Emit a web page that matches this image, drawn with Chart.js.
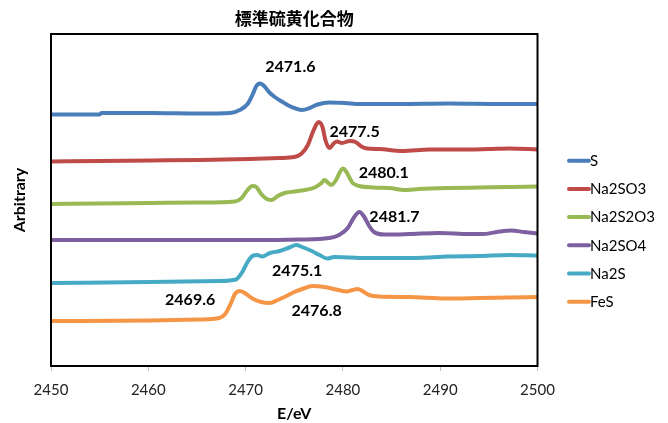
<!DOCTYPE html>
<html>
<head>
<meta charset="utf-8">
<script src="https://cdn.jsdelivr.net/npm/chart.js@4/dist/chart.umd.min.js"></script>
<style>
  html, body { margin: 0; padding: 0; background: #fff; }
  #wrap { width: 668px; height: 423px; }
</style>
</head>
<body>
<div id="wrap"><canvas id="c" width="668" height="423"></canvas></div>
<script>
// ---- data (E in eV, intensity in arbitrary units) ----
const seriesLabels = ['S', 'Na2SO3', 'Na2S2O3', 'Na2SO4', 'Na2S', 'FeS'];
const seriesColors = ['#4A7EBB', '#BE4B48', '#98B954', '#7D60A0', '#46AAC5', '#F59646'];

const energyS = [2450.0, 2455.0, 2455.2, 2460.2, 2465.3, 2468.4, 2469.4, 2470.2, 2470.7, 2471.1, 2471.5, 2471.9, 2472.4, 2473.0, 2473.8, 2474.5, 2475.3, 2475.8, 2476.6, 2477.4, 2478.6, 2480.2, 2481.7, 2485.8, 2490.9, 2496.1, 2500.0];
const intensityS = [251.5, 251.5, 253, 253, 252.5, 253, 256, 262, 271, 280, 282.5, 280, 274, 269, 264, 260, 257, 256, 258, 261.5, 263.5, 263, 262, 262, 262.5, 262, 262];

const energyNa2SO3 = [2450.0, 2455.0, 2460.2, 2465.3, 2470.4, 2473.5, 2475.0, 2475.7, 2476.4, 2477.0, 2477.5, 2477.9, 2478.2, 2478.6, 2479.1, 2479.4, 2479.9, 2480.7, 2481.3, 2481.9, 2482.5, 2483.7, 2486.1, 2488.9, 2492.0, 2495.0, 2497.1, 2500.0];
const intensityNa2SO3 = [204.5, 205, 205.5, 206, 207, 208, 209, 212, 221, 236, 244, 239, 226, 218, 223, 224.5, 223, 225, 224, 219.5, 217.5, 217, 215, 216.5, 216.5, 217, 217.5, 216.5];

const energyNa2S2O3 = [2450.0, 2455.0, 2460.2, 2465.3, 2468.9, 2469.6, 2470.2, 2470.7, 2471.1, 2471.6, 2472.3, 2472.7, 2473.3, 2474.0, 2475.0, 2476.1, 2477.1, 2477.8, 2478.1, 2478.5, 2478.8, 2479.3, 2479.7, 2480.0, 2480.3, 2480.7, 2481.0, 2481.7, 2483.2, 2484.8, 2486.3, 2487.8, 2490.9, 2494.0, 2497.1, 2500.0];
const intensityNa2S2O3 = [162, 162.5, 163, 163.5, 164.5, 168, 176, 180, 179, 172, 166.5, 166, 170, 173, 174.5, 176, 178.5, 183, 186, 183, 181, 186, 194, 197.5, 195, 188, 183, 180, 178.5, 178, 176, 177, 178, 178.5, 179, 179.5];

const energyNa2SO4 = [2450.0, 2460.2, 2470.4, 2475.5, 2478.6, 2479.6, 2480.5, 2481.1, 2481.7, 2482.2, 2482.7, 2483.2, 2484.3, 2486.8, 2489.9, 2493.0, 2494.5, 2496.1, 2497.3, 2498.6, 2500.0];
const intensityNa2SO4 = [126, 126, 126, 126.5, 128, 131, 138, 148, 154, 149, 140, 134, 131.5, 132, 133, 132, 132, 134.5, 135.5, 134, 132.5];

const energyNa2S = [2450.0, 2460.2, 2467.3, 2469.0, 2469.6, 2470.2, 2470.7, 2471.2, 2471.7, 2472.5, 2473.5, 2474.5, 2475.2, 2475.8, 2476.8, 2477.6, 2478.4, 2479.1, 2480.7, 2482.7, 2485.8, 2488.9, 2490.6, 2494.0, 2497.1, 2500.0];
const intensityNa2S = [83, 84, 85, 86.5, 93, 104, 110, 111, 109.5, 113, 115, 118.5, 121, 119, 115, 111, 107.5, 109, 108.5, 108, 108, 108.5, 109.5, 110, 111, 110.5];

const energyFeS = [2450.0, 2460.2, 2465.3, 2467.3, 2467.9, 2468.5, 2468.9, 2469.4, 2469.9, 2470.7, 2471.6, 2472.5, 2473.3, 2474.2, 2475.0, 2476.1, 2476.9, 2478.1, 2479.3, 2480.4, 2481.0, 2481.5, 2482.0, 2482.7, 2483.7, 2486.8, 2490.6, 2494.0, 2497.1, 2500.0];
const intensityFeS = [45, 45.5, 46.5, 48, 52, 63, 72, 75, 73, 67.5, 64, 63, 66, 70, 74, 78, 80, 79, 76.5, 74.5, 76, 77, 75, 71, 69.5, 69, 67.5, 68, 68.5, 69];

const xTicks = [2450, 2460, 2470, 2480, 2490, 2500];

// peak annotations: text, anchor energy, anchor intensity
const noteTexts = ['2471.6', '2477.5', '2480.1', '2481.7', '2475.1', '2469.6', '2476.8'];
const noteEnergy = [2474.6, 2481.2, 2484.2, 2485.3, 2475.3, 2464.3, 2477.3];
const noteIntensity = [299, 234, 193, 149, 95.5, 66.5, 55];

const energies = [energyS, energyNa2SO3, energyNa2S2O3, energyNa2SO4, energyNa2S, energyFeS];
const intensities = [intensityS, intensityNa2SO3, intensityNa2S2O3, intensityNa2SO4, intensityNa2S, intensityFeS];

const datasets = seriesLabels.map((lab, k) => ({
  label: lab,
  data: energies[k].map((e, i) => ({ x: e, y: intensities[k][i] })),
  borderColor: seriesColors[k],
  backgroundColor: seriesColors[k],
  borderWidth: 4,
  pointRadius: 0,
  fill: false,
  cubicInterpolationMode: 'monotone'
}));

const bgPlugin = {
  id: 'bg',
  beforeDraw(chart) {
    const ctx = chart.ctx;
    ctx.save();
    ctx.fillStyle = '#fff';
    ctx.fillRect(0, 0, chart.width, chart.height);
    ctx.restore();
  }
};

const framePlugin = {
  id: 'frame',
  afterDatasetsDraw(chart) {
    const { ctx, chartArea: a, scales } = chart;
    ctx.save();
    ctx.strokeStyle = '#000';
    ctx.lineWidth = 2;
    ctx.strokeRect(a.left, a.top, a.right - a.left, a.bottom - a.top);
    // peak labels
    ctx.fillStyle = '#000';
    ctx.font = 'bold 16px Lato';
    ctx.textAlign = 'center';
    ctx.textBaseline = 'middle';
    noteTexts.forEach((t, i) => {
      ctx.fillText(t, scales.x.getPixelForValue(noteEnergy[i]), scales.y.getPixelForValue(noteIntensity[i]));
    });
    ctx.restore();
  }
};

const legendPlugin = {
  id: 'sideLegend',
  afterDraw(chart) {
    const { ctx, chartArea: a } = chart;
    const x0 = a.right + 31.5;
    const y0 = 160.7;
    const step = 28.2;
    ctx.save();
    ctx.font = '15px Lato';
    ctx.textBaseline = 'middle';
    ctx.textAlign = 'left';
    chart.data.datasets.forEach((ds, i) => {
      const y = y0 + i * step;
      ctx.strokeStyle = ds.borderColor;
      ctx.lineWidth = 4;
      ctx.lineCap = 'round';
      ctx.beginPath();
      ctx.moveTo(x0, y);
      ctx.lineTo(x0 + 20, y);
      ctx.stroke();
      ctx.fillStyle = '#000';
      ctx.fillText(ds.label, x0 + 21, y + 0.5);
    });
    ctx.restore();
  }
};

new Chart(document.getElementById('c'), {
  type: 'line',
  data: { datasets },
  plugins: [bgPlugin, framePlugin, legendPlugin],
  options: {
    responsive: false,
    devicePixelRatio: 1,
    animation: false,
    layout: { padding: { left: 0, right: 130.5, top: 0, bottom: 0 } },
    plugins: {
      legend: { display: false },
      tooltip: { enabled: false },
      title: {
        display: true,
        text: '標準硫黄化合物',
        fullSize: false,
        color: '#000',
        font: { family: '"Noto Sans CJK JP"', size: 17, weight: 'bold' },
        padding: { top: 8.8, bottom: 4.8 }
      }
    },
    scales: {
      x: {
        type: 'linear',
        min: 2450,
        max: 2500,
        afterBuildTicks(scale) { scale.ticks = xTicks.map(v => ({ value: v })); },
        afterFit(scale) { scale.height = 57; },
        ticks: {
          color: '#222',
          font: { family: 'Lato', size: 15 },
          padding: 10,
          maxRotation: 0,
          autoSkip: false,
          callback: (v) => String(v)
        },
        grid: { display: true, drawOnChartArea: false, drawTicks: true, tickLength: 5, color: '#BFBFBF' },
        border: { display: false },
        title: {
          display: true,
          text: 'E/eV',
          color: '#000',
          font: { family: 'Lato', size: 16, weight: 'bold' },
          padding: { top: 0, bottom: 0 }
        }
      },
      y: {
        min: 0,
        max: 332,
        afterFit(scale) { scale.width = 51; },
        ticks: { display: false },
        grid: { display: false },
        border: { display: false },
        title: {
          display: true,
          text: 'Arbitrary',
          color: '#000',
          font: { family: 'Lato', size: 16, weight: 'bold' },
          padding: { top: 10, bottom: 0 }
        }
      }
    }
  }
});
</script>
</body>
</html>
